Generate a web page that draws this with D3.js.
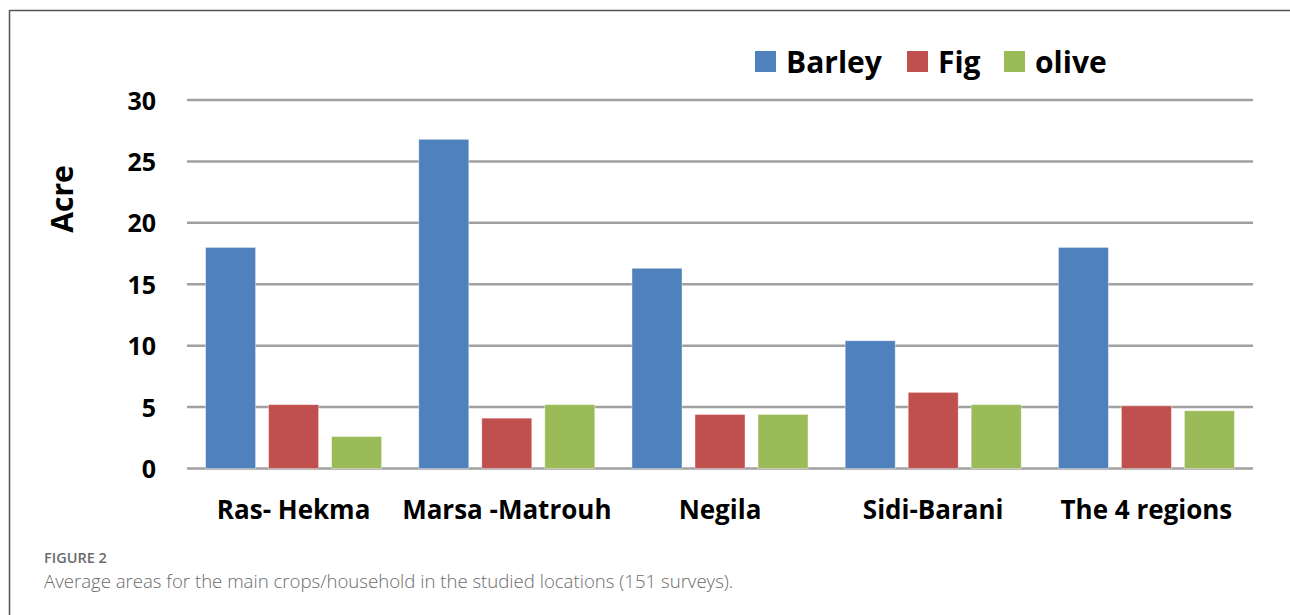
<!DOCTYPE html>
<html>
<head>
<meta charset="utf-8">
<script src="https://cdn.jsdelivr.net/npm/d3@7"></script>
<style>
  body { margin: 0; background: #fff; }
</style>
</head>
<body>
<div id="chart"></div>
<script>
var regions = ["Ras- Hekma", "Marsa -Matrouh", "Negila", "Sidi-Barani", "The 4 regions"];
var crops = ["Barley", "Fig", "olive"];
var barley = [18, 26.8, 16.3, 10.4, 18];
var fig = [5.2, 4.1, 4.4, 6.2, 5.1];
var olive = [2.6, 5.2, 4.4, 5.2, 4.7];
var yTicks = [0, 5, 10, 15, 20, 25, 30];
var colors = ["#4f81bd", "#c0504d", "#9bbb59"];

var width = 1290, height = 615;
var series = [barley, fig, olive];
var chartFont = "'Open Sans', sans-serif";

var svg = d3.select("#chart").append("svg")
  .attr("width", width)
  .attr("height", height)
  .style("font-family", chartFont);

// frame of the figure box
svg.append("line").attr("x1", 9.5).attr("x2", width).attr("y1", 10.5).attr("y2", 10.5)
  .attr("stroke", "#555").attr("stroke-width", 1.5);
svg.append("line").attr("x1", 9.5).attr("x2", 9.5).attr("y1", 10).attr("y2", height)
  .attr("stroke", "#555").attr("stroke-width", 1.5);

var x0 = d3.scaleBand().domain(regions).range([187, 1253]).paddingInner(0).paddingOuter(0);
var x1 = d3.scaleBand().domain(crops).range([0, x0.bandwidth()]).paddingInner(0.206).paddingOuter(0.295);
var y = d3.scaleLinear().domain([0, 30]).range([468.5, 100]);

// gridlines
svg.selectAll(".grid")
  .data(yTicks)
  .enter()
  .append("line")
  .attr("class", "grid")
  .attr("x1", 187).attr("x2", 1253)
  .attr("y1", function(d){ return y(d); })
  .attr("y2", function(d){ return y(d); })
  .attr("stroke", "#a0a0a0")
  .attr("stroke-width", 2.5);

// y axis labels
var yAxis = d3.axisLeft(y).tickValues(yTicks).tickSize(0).tickPadding(0);
var ya = svg.append("g").attr("transform", "translate(156,0)").call(yAxis);
ya.select(".domain").remove();
ya.selectAll("text")
  .attr("font-family", chartFont)
  .attr("font-size", 25)
  .attr("font-weight", "bold")
  .attr("fill", "#000")
  .attr("dy", "0.36em");

svg.append("text")
  .attr("transform", "translate(73,199) rotate(-90)")
  .attr("text-anchor", "middle")
  .attr("font-size", 30)
  .attr("font-weight", "bold")
  .text("Acre");

// bars
var groups = svg.selectAll(".region")
  .data(regions)
  .enter()
  .append("g")
  .attr("class", "region")
  .attr("transform", function(d){ return "translate(" + x0(d) + ",0)"; });

groups.selectAll("rect")
  .data(function(d, i){
    return crops.map(function(c, j){ return {crop: c, value: series[j][i], color: colors[j]}; });
  })
  .enter()
  .append("rect")
  .attr("x", function(d){ return x1(d.crop); })
  .attr("width", x1.bandwidth())
  .attr("y", function(d){ return y(d.value); })
  .attr("height", function(d){ return y(0) - y(d.value); })
  .attr("fill", function(d){ return d.color; })
  .attr("stroke", "#fff")
  .attr("stroke-opacity", 0.5)
  .attr("stroke-width", 0.8);

// category labels
var xAxis = d3.axisBottom(x0).tickSize(0).tickPadding(0);
var xa = svg.append("g").attr("transform", "translate(0,510)").call(xAxis);
xa.select(".domain").remove();
xa.selectAll("text")
  .attr("font-family", chartFont)
  .attr("font-size", 26)
  .attr("font-weight", "bold")
  .attr("fill", "#000")
  .attr("dy", "0.36em");

// legend
var legendX = [755, 907, 1004];
var legend = svg.selectAll(".legend")
  .data(crops)
  .enter()
  .append("g")
  .attr("class", "legend")
  .attr("transform", function(d, i){ return "translate(" + legendX[i] + ",51)"; });
legend.append("rect")
  .attr("width", 21).attr("height", 21)
  .attr("fill", function(d, i){ return colors[i]; });
legend.append("text")
  .attr("x", 31).attr("y", 11)
  .attr("dy", "0.36em")
  .attr("font-size", 30)
  .attr("font-weight", "bold")
  .text(function(d){ return d; });

// caption
svg.append("text")
  .attr("x", 44).attr("y", 563)
  .attr("font-size", 14.5)
  .attr("font-weight", 600)
  .attr("fill", "#6b6b6b")
  .text("FIGURE 2");
svg.append("text")
  .attr("x", 44).attr("y", 588)
  .attr("font-size", 18.6)
  .attr("font-weight", 300)
  .attr("fill", "#6b6b6b")
  .text("Average areas for the main crops/household in the studied locations (151 surveys).");
</script>
</body>
</html>
